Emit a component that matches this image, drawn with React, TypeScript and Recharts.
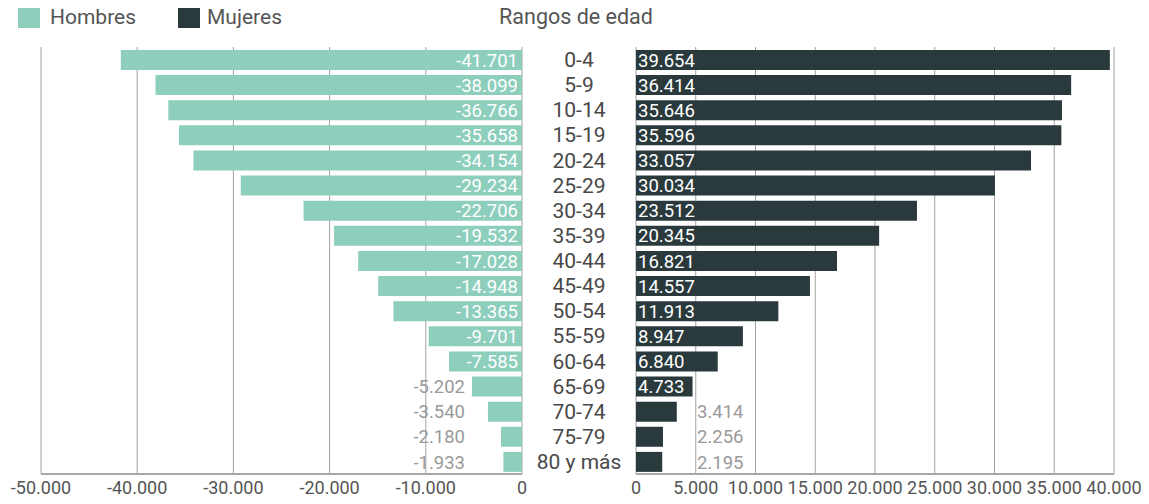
import React from "react";
import { BarChart, Bar, XAxis, YAxis, CartesianGrid, LabelList } from "recharts";

const ageGroups = ["0-4", "5-9", "10-14", "15-19", "20-24", "25-29", "30-34", "35-39", "40-44", "45-49", "50-54", "55-59", "60-64", "65-69", "70-74", "75-79", "80 y más"];
const hombres = [41701, 38099, 36766, 35658, 34154, 29234, 22706, 19532, 17028, 14948, 13365, 9701, 7585, 5202, 3540, 2180, 1933];
const mujeres = [39654, 36414, 35646, 35596, 33057, 30034, 23512, 20345, 16821, 14557, 11913, 8947, 6840, 4733, 3414, 2256, 2195];
const leftTicks = [-50000, -40000, -30000, -20000, -10000, 0];
const rightTicks = [0, 5000, 10000, 15000, 20000, 25000, 30000, 35000, 40000];

const data = ageGroups.map((age, i) => ({ age, hombres: -hombres[i], mujeres: mujeres[i] }));

const FONT = "Roboto, 'Noto Sans', sans-serif";
const TEAL = "#8dcebd";
const DARK = "#2a3a3c";
const GRID = "#a3a3a3";

const fmt = (v: number) => {
  const s = Math.abs(Math.round(v)).toString().replace(/\B(?=(\d{3})+(?!\d))/g, ".");
  return (v < 0 ? "-" : "") + s;
};

const HLabel = (props: any) => {
  const { x, y, width, height, value } = props;
  const left = Math.min(x, x + width);
  const right = Math.max(x, x + width);
  const w = right - left;
  const cy = y + height / 2;
  if (w >= 54) {
    return (
      <text x={right - 4} y={cy} dy="0.36em" textAnchor="end" fill="#ffffff" fontSize={18.5} fontFamily={FONT}>
        {fmt(value)}
      </text>
    );
  }
  return (
    <text x={right - 57} y={cy} dy="0.36em" textAnchor="end" fill="#9a9a9a" fontSize={18.5} fontFamily={FONT}>
      {fmt(value)}
    </text>
  );
};

const MLabel = (props: any) => {
  const { x, y, width, height, value } = props;
  const left = Math.min(x, x + width);
  const right = Math.max(x, x + width);
  const w = right - left;
  const cy = y + height / 2;
  if (w >= 54) {
    return (
      <text x={left + 2} y={cy} dy="0.36em" textAnchor="start" fill="#ffffff" fontSize={18.5} fontFamily={FONT}>
        {fmt(value)}
      </text>
    );
  }
  return (
    <text x={left + 61} y={cy} dy="0.36em" textAnchor="start" fill="#9a9a9a" fontSize={18.5} fontFamily={FONT}>
      {fmt(value)}
    </text>
  );
};

const CategoryTick = (props: any) => {
  const { x, y, payload } = props;
  return (
    <text x={x + 57} y={y} dy="0.36em" textAnchor="middle" fill="#484848" fontSize={21} fontFamily={FONT}>
      {payload.value}
    </text>
  );
};

const tickStyle = { fill: "#555", fontSize: 18, fontFamily: FONT };

export default function App() {
  return (
    <div style={{ position: "absolute", left: 0, top: 0, width: 1149, height: 504, background: "#fff", fontFamily: FONT }}>
      <div style={{ position: "absolute", left: 18, top: 8, width: 22, height: 20, background: TEAL }} />
      <div style={{ position: "absolute", left: 50, top: 4, fontSize: 21, color: "#555", lineHeight: "26px" }}>Hombres</div>
      <div style={{ position: "absolute", left: 178, top: 8, width: 22, height: 20, background: DARK }} />
      <div style={{ position: "absolute", left: 207, top: 4, fontSize: 21, color: "#555", lineHeight: "26px" }}>Mujeres</div>
      <div style={{ position: "absolute", left: 476, width: 200, top: 4, fontSize: 21.5, color: "#555", lineHeight: "26px", textAlign: "center" }}>
        Rangos de edad
      </div>

      <div style={{ position: "absolute", left: 0, top: 0 }}>
        <BarChart width={636} height={504} data={data} layout="vertical" margin={{ top: 47, right: 0, left: 41, bottom: 0 }} barSize={20}>
          <CartesianGrid horizontal={false} vertical={true} stroke={GRID} />
          <XAxis
            type="number"
            domain={[-50000, 0]}
            ticks={leftTicks}
            tickFormatter={fmt}
            height={30}
            tickSize={0}
            tickMargin={7}
            axisLine={{ stroke: "#a8a8a8", strokeWidth: 2 }}
            tick={tickStyle}
            interval={0}
          />
          <YAxis
            type="category"
            dataKey="age"
            orientation="right"
            width={114}
            axisLine={false}
            tickLine={false}
            tickSize={0}
            tickMargin={0}
            tick={<CategoryTick />}
            interval={0}
          />
          <Bar dataKey="hombres" fill={TEAL} isAnimationActive={false}>
            <LabelList dataKey="hombres" content={<HLabel />} />
          </Bar>
        </BarChart>
      </div>

      <div style={{ position: "absolute", left: 0, top: 0 }}>
        <BarChart width={1149} height={504} data={data} layout="vertical" margin={{ top: 47, right: 35, left: 636, bottom: 0 }} barSize={20}>
          <CartesianGrid horizontal={false} vertical={true} stroke={GRID} />
          <XAxis
            type="number"
            domain={[0, 40000]}
            ticks={rightTicks}
            tickFormatter={fmt}
            height={30}
            tickSize={0}
            tickMargin={7}
            axisLine={{ stroke: "#a8a8a8", strokeWidth: 2 }}
            tick={tickStyle}
            interval={0}
          />
          <YAxis type="category" dataKey="age" hide />
          <Bar dataKey="mujeres" fill={DARK} isAnimationActive={false}>
            <LabelList dataKey="mujeres" content={<MLabel />} />
          </Bar>
        </BarChart>
      </div>
    </div>
  );
}
